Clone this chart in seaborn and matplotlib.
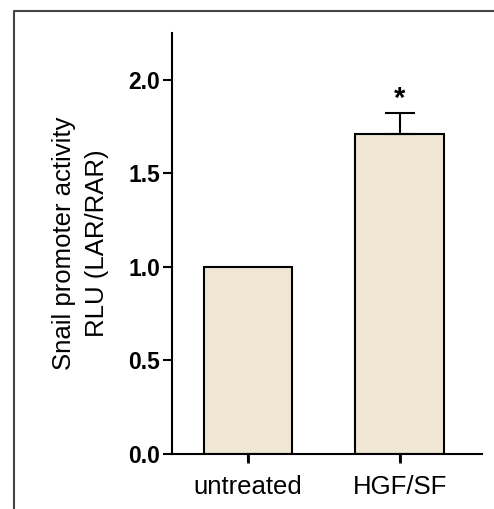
import matplotlib
matplotlib.use("Agg")
import matplotlib.pyplot as plt
import matplotlib.transforms as mtransforms
import seaborn as sns
import pandas as pd
from matplotlib.lines import Line2D

categories = ["untreated", "HGF/SF"]
values = [1.0, 1.71]
errors = [0.0, 0.11]
yticks = [0.0, 0.5, 1.0, 1.5, 2.0]
ytick_labels = ["0.0", "0.5", "1.0", "1.5", "2.0"]
ylabel = "Snail promoter activity\nRLU (LAR/RAR)"
signif = ["", "*"]

sns.set_style("ticks")
plt.rcParams['font.family'] = ['Liberation Sans', 'DejaVu Sans']
plt.rcParams['text.color'] = 'black'
plt.rcParams['axes.labelcolor'] = 'black'
plt.rcParams['xtick.color'] = 'black'
plt.rcParams['ytick.color'] = 'black'
plt.rcParams['xtick.bottom'] = True
plt.rcParams['ytick.left'] = True

W, H = 494, 509
fig = plt.figure(figsize=(W / 100, H / 100), dpi=100)
ax = fig.add_axes([172 / W, 1 - 454 / H, (482 - 172) / W, (454 - 33) / H])

df = pd.DataFrame({"cond": categories, "val": values})
sns.barplot(data=df, x="cond", y="val", order=categories, color="#EFE7D3",
            edgecolor="black", linewidth=1.5, width=0.585, saturation=1,
            errorbar=None, ax=ax)

for i, (v, e, s) in enumerate(zip(values, errors, signif)):
    if e > 0:
        ax.errorbar(i, v, yerr=[[0], [e]], fmt="none", ecolor="black",
                    elinewidth=1.5, capsize=11, capthick=1.5, zorder=1)
    if s:
        ax.text(i, v + e + 0.005, s, ha="center", va="bottom",
                fontsize=21, fontweight="bold")

ax.set_xlim(-0.5, 1.54)
ax.set_ylim(0, 2.25)
ax.set_yticks(yticks)
ax.set_yticklabels(ytick_labels, fontsize=16.5, fontweight="bold")
ax.tick_params(axis="y", direction="out", length=6.5, width=1.5, pad=2, left=True,
               colors="black")
ax.set_xlabel("")
ax.set_ylabel(ylabel, fontsize=18.5, labelpad=14, linespacing=1.45, color="black")
for side in ["top", "right"]:
    ax.spines[side].set_visible(False)
for side in ["left", "bottom"]:
    ax.spines[side].set_linewidth(1.5)
    ax.spines[side].set_color("black")

# outer frame (left and top only)
fig.add_artist(Line2D([13.5 / W, 13.5 / W, 1.0], [0.0, 1 - 10.5 / H, 1 - 10.5 / H],
                      transform=fig.transFigure, color="#444444", linewidth=1.5))

ax.tick_params(axis="x", direction="out", length=6, width=1.5, pad=9, labelsize=18.5,
               bottom=True, colors="black")

# explicit category tick marks below the x axis
trans = mtransforms.blended_transform_factory(ax.transData, ax.transAxes)
tick_len = 9 / (454 - 33)
for i in range(len(categories)):
    ax.plot([i, i], [0, -tick_len], transform=trans, color="black",
            linewidth=2.0, clip_on=False, solid_capstyle="butt", zorder=5)

fig.savefig("out.png", dpi=100)
